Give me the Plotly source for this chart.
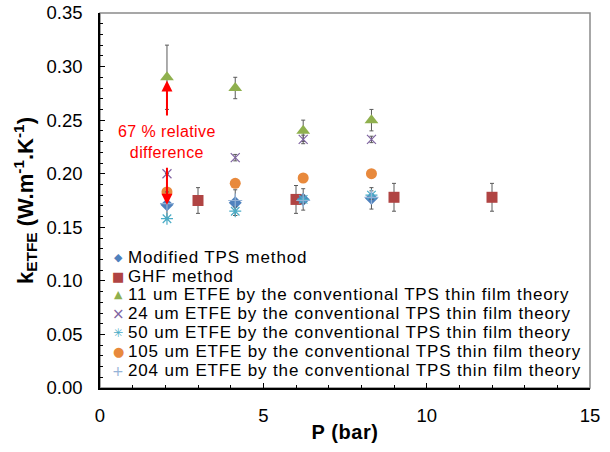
import plotly.graph_objects as go

# ---- data ----
P_tps = [2.05, 4.14, 6.22, 8.31]
k_modified = [0.171, 0.173, 0.176, 0.177]
e_modified = [0.012, 0.012, 0.010, 0.010]

P_ghf = [3.0, 6.0, 9.0, 12.0]
k_ghf = [0.175, 0.176, 0.178, 0.178]
e_ghf = [0.012, 0.013, 0.013, 0.013]

k_11 = [0.290, 0.280, 0.240, 0.250]
e_11 = [0.030, 0.010, 0.010, 0.010]
k_24 = [0.200, 0.215, 0.232, 0.232]
e_24 = [0.000, 0.003, 0.004, 0.003]
k_50 = [0.158, 0.165, 0.176, 0.180]
e_50 = [0.000, 0.004, 0.004, 0.004]
k_105 = [0.183, 0.191, 0.196, 0.200]
k_204 = [0.172, 0.175, 0.175, 0.178]

names = [
    "Modified TPS method",
    "GHF method",
    "11 um ETFE by the conventional TPS thin film theory",
    "24 um ETFE by the conventional TPS thin film theory",
    "50 um ETFE by the conventional TPS thin film theory",
    "105 um ETFE by the conventional TPS thin film theory",
    "204 um ETFE by the conventional TPS thin film theory",
]

# ---- styles ----
ERR = "#5a5a5a"
FONT = "Liberation Sans, Arial, sans-serif"
C_MOD, C_GHF, C_11, C_24, C_50, C_105, C_204 = (
    "#4F81BD", "#B04443", "#8FB04E", "#8064A2", "#4BACC6", "#E8893C", "#95B3D7")
legend_glyphs = [("◆", C_MOD, 11), ("■", C_GHF, 13), ("▲", C_11, 11), ("×", C_24, 15),
                 ("✳", C_50, 12), ("●", C_105, 13), ("+", C_204, 14)]


def eb(arr):
    return dict(type="data", array=arr, visible=True, color=ERR, thickness=1, width=2)


fig = go.Figure()
fig.add_trace(go.Scatter(x=P_tps, y=k_11, mode="markers", name=names[2],
                         marker=dict(symbol="triangle-up", size=12, color=C_11),
                         error_y=eb(e_11)))
fig.add_trace(go.Scatter(x=P_tps, y=k_24, mode="markers", name=names[3],
                         marker=dict(symbol="x-thin-open", size=9, line=dict(color=C_24, width=1.2), color=C_24),
                         error_y=eb(e_24)))
fig.add_trace(go.Scatter(x=P_tps, y=k_105, mode="markers", name=names[5],
                         marker=dict(symbol="circle", size=11, color=C_105)))
fig.add_trace(go.Scatter(x=P_ghf, y=k_ghf, mode="markers", name=names[1],
                         marker=dict(symbol="square", size=11, color=C_GHF),
                         error_y=eb(e_ghf)))
fig.add_trace(go.Scatter(x=P_tps, y=k_modified, mode="markers", name=names[0],
                         marker=dict(symbol="diamond", size=10, color=C_MOD),
                         error_y=eb(e_modified)))
fig.add_trace(go.Scatter(x=P_tps, y=k_50, mode="markers", name=names[4],
                         marker=dict(symbol="asterisk-open", size=10, line=dict(color=C_50, width=1.2), color=C_50),
                         error_y=eb(e_50)))
fig.add_trace(go.Scatter(x=P_tps, y=k_204, mode="markers", name=names[6],
                         marker=dict(symbol="cross-thin-open", size=10, line=dict(color=C_204, width=1.2), color=C_204)))

# ---- red annotation arrows and text ----
fig.add_annotation(x=P_tps[0], y=0.287, ax=P_tps[0], ay=0.253, xref="x", yref="y", axref="x", ayref="y",
                   text="", showarrow=True, arrowhead=2, arrowsize=1.1, arrowwidth=2, arrowcolor="#FF0000")
fig.add_annotation(x=P_tps[0], y=0.171, ax=P_tps[0], ay=0.207, xref="x", yref="y", axref="x", ayref="y",
                   text="", showarrow=True, arrowhead=2, arrowsize=1.1, arrowwidth=2, arrowcolor="#FF0000")
fig.add_annotation(x=2.05, y=0.2294, xref="x", yref="y",
                   text="<span style='letter-spacing:0.4px'>67 % relative</span><br>"
                        "<span style='letter-spacing:0.4px'>difference</span>",
                   showarrow=False, font=dict(family=FONT, size=16, color="#FF0000"), align="center")

# ---- legend drawn as text rows inside the plot ----
row0, step = 0.349, 0.0504
for i, (name, (g, col, gs)) in enumerate(zip(names, legend_glyphs)):
    yy = row0 - i * step
    fig.add_annotation(x=0.0374, y=yy, xref="paper", yref="paper", xanchor="center", yanchor="middle",
                       text=g, showarrow=False,
                       font=dict(family="DejaVu Sans, sans-serif", size=gs, color=col))
    fig.add_annotation(x=0.054, y=yy, xref="paper", yref="paper", xanchor="left", yanchor="middle",
                       text="<span style='letter-spacing:0.85px'>" + name + "</span>", showarrow=False,
                       font=dict(family=FONT, size=17, color="#000"))

fig.update_layout(
    width=610, height=452,
    margin=dict(l=100, r=20, t=13, b=64),
    paper_bgcolor="white", plot_bgcolor="white",
    font=dict(family=FONT, size=18, color="#000000"),
    showlegend=False,
    shapes=[dict(type="rect", xref="paper", yref="paper", x0=0, y0=0, x1=1, y1=1,
                 line=dict(color="#8a8a8a", width=1.5), layer="below")],
)
fig.update_xaxes(range=[0, 15], tickvals=[0, 5, 10, 15], ticks="inside", ticklen=5, tickcolor="#000",
                 showline=True, linecolor="#000", linewidth=1.5, showgrid=False, zeroline=False,
                 minor=dict(dtick=1, ticks="inside", ticklen=3, tickcolor="#000"),
                 ticklabelstandoff=10, automargin=False,
                 title=dict(text="<b><span style='letter-spacing:0.6px'>P (bar)</span></b>",
                            font=dict(family=FONT, size=20), standoff=0),
                 tickfont=dict(family=FONT, size=18.5, color="#000"))
fig.update_yaxes(range=[0, 0.35], dtick=0.05, tickformat=".2f", ticks="inside", ticklen=5, tickcolor="#000",
                 showline=True, linecolor="#000", linewidth=1.5, showgrid=False, zeroline=False,
                 minor=dict(dtick=0.01, ticks="inside", ticklen=3, tickcolor="#000"),
                 ticklabelstandoff=12, automargin=False,
                 title=dict(text="<b>k<sub>ETFE</sub> (W.m<sup>-1</sup>.K<sup>-1</sup>)</b>",
                            font=dict(family=FONT, size=22), standoff=7),
                 tickfont=dict(family=FONT, size=18.5, color="#000"))

fig.write_html("out.html")
